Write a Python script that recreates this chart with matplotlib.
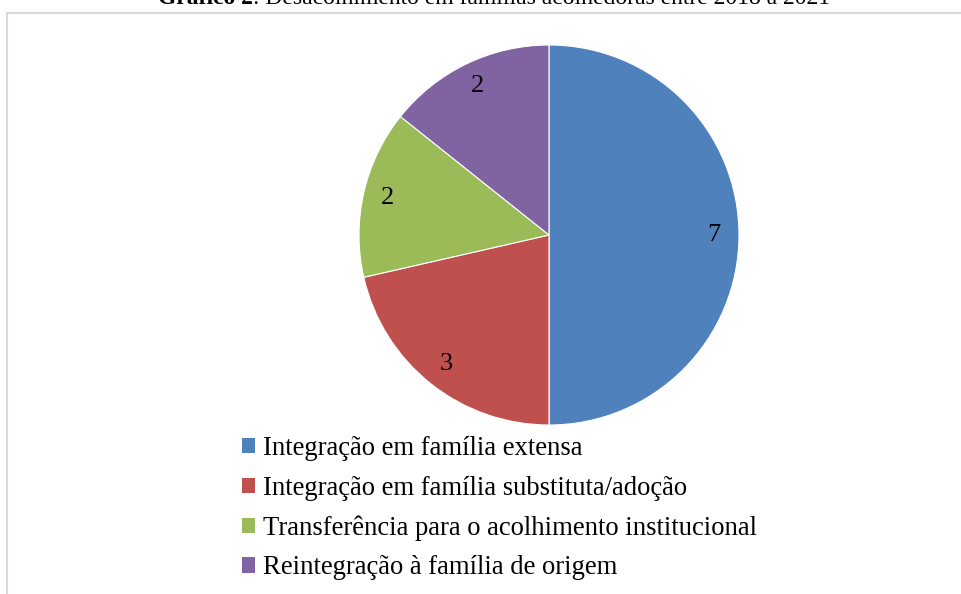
import matplotlib
matplotlib.use("Agg")
import matplotlib.pyplot as plt
from matplotlib.patches import Rectangle, Patch

categories = ["Integração em família extensa",
              "Integração em família substituta/adoção",
              "Transferência para o acolhimento institucional",
              "Reintegração à família de origem"]
values = [7, 3, 2, 2]
colors = ["#4F81BD", "#C0504D", "#9BBB59", "#8064A2"]
title_bold = "Gráfico 2"
title_rest = ": Desacolhimento em famílias acolhedoras entre 2018 a 2021"

plt.rcParams['font.family'] = ['Liberation Serif', 'DejaVu Serif']

W, H = 962, 594
fig = plt.figure(figsize=(W/100, H/100), dpi=100)

# border
fig.patches.append(Rectangle((7.5/W, -0.1), 1.2, 1 - 12.5/H + 0.1, transform=fig.transFigure,
                             fill=False, edgecolor="#D9D9D9", linewidth=1.5))

cx, cy, r = 549, 235, 190
ax = fig.add_axes([(cx - r)/W, (H - cy - r)/H, 2*r/W, 2*r/H])
total = sum(values)
wedges, texts, autotexts = ax.pie(values, colors=colors, startangle=90, counterclock=False,
                                  radius=1, autopct=lambda p: f"{round(p*total/100)}",
                                  pctdistance=0.87,
                                  wedgeprops=dict(edgecolor="white", linewidth=0.8),
                                  textprops=dict(fontsize=19, color="black"))
ax.set_xlim(-1, 1)
ax.set_ylim(-1, 1)
ax.set_aspect('auto')
ax.axis('off')

handles = [Patch(facecolor=c, edgecolor='none') for c in colors]
leg = fig.legend(handles, categories, loc='upper left', bbox_to_anchor=(242/W, 1 - 436/H),
                 frameon=False, fontsize=19.2, handlelength=0.5, handleheight=0.5,
                 handletextpad=0.27, labelspacing=0.55, borderpad=0, borderaxespad=0)

# title (clipped at top, as in the source)
fig.canvas.draw()
r_ = fig.canvas.get_renderer()
tb = fig.text(0, 0, title_bold, fontsize=17, fontweight='bold')
tr = fig.text(0, 0, title_rest, fontsize=17)
wb = tb.get_window_extent(r_).width
wr = tr.get_window_extent(r_).width
x0 = 494 - (wb + wr)/2
yb = 1 - 4/H
tb.set_position((x0/W, yb)); tb.set_va('baseline')
tr.set_position(((x0 + wb)/W, yb)); tr.set_va('baseline')

fig.savefig("out.png", dpi=100)
